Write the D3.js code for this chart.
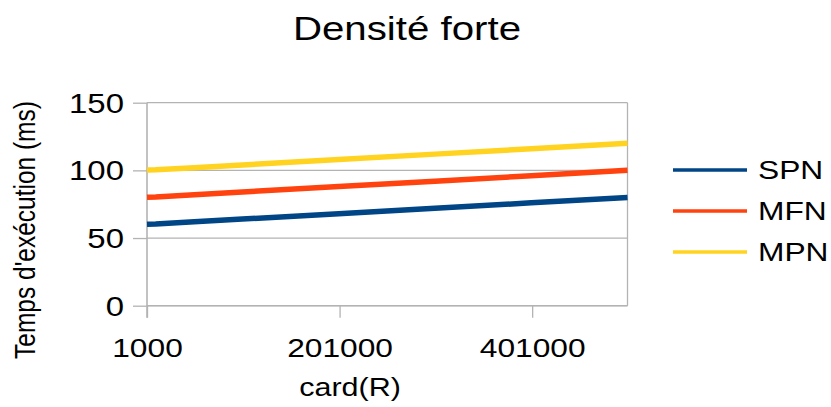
<!DOCTYPE html>
<html>
<head>
<meta charset="utf-8">
<script src="https://cdn.jsdelivr.net/npm/d3@7"></script>
<style>
  html, body { margin: 0; padding: 0; background: #fff; }
  svg { display: block; font-family: "Liberation Sans", Arial, sans-serif; }
</style>
</head>
<body>
<svg id="chart" width="831" height="407"></svg>
<script>
// card(R) sample sizes and execution times (ms) per method
const cardR = [1000, 10000, 50000, 100000, 200000, 300000, 400000, 500000];
const spn = [60.2, 60.4, 62, 64, 68, 72, 76, 80];
const mfn = [80.2, 80.4, 82, 84, 88, 92, 96, 100];
const mpn = [100.2, 100.4, 102, 104, 108, 112, 116, 120];
const seriesNames = ["SPN", "MFN", "MPN"];
const seriesColors = ["#004586", "#ff420e", "#ffd320"];
const xTicks = [1000, 201000, 401000];
const yTicks = [0, 50, 100, 150];

const series = [spn, mfn, mpn].map((vals, i) => ({
  name: seriesNames[i],
  color: seriesColors[i],
  points: cardR.map((c, j) => [c, vals[j]])
}));

const SX = 1.22; // horizontal stretch applied to all text
const svg = d3.select("#chart");
const plot = { left: 147, right: 627.5, top: 102.7, bottom: 305.7 };

const x = d3.scaleLinear().domain([1000, 500000]).range([plot.left, plot.right]);
const y = d3.scaleLinear().domain([0, 150]).range([plot.bottom, plot.top]);
const grey = "#b3b3b3";

// horizontal grid lines
svg.append("g").selectAll("line").data(yTicks).join("line")
  .attr("x1", plot.left).attr("x2", plot.right)
  .attr("y1", d => y(d)).attr("y2", d => y(d))
  .attr("stroke", grey).attr("stroke-width", 1.3);

// right border of the plot area
svg.append("line")
  .attr("x1", plot.right).attr("x2", plot.right)
  .attr("y1", plot.top).attr("y2", plot.bottom)
  .attr("stroke", grey).attr("stroke-width", 1.3);

// y axis
const yAxis = svg.append("g")
  .attr("transform", `translate(${plot.left},0)`)
  .call(d3.axisLeft(y).tickValues(yTicks).tickSize(14).tickPadding(0).tickFormat(d3.format("d")));
yAxis.select(".domain").remove();
yAxis.append("line").attr("x1", 0).attr("x2", 0)
  .attr("y1", plot.top).attr("y2", plot.bottom + 12)
  .attr("stroke", grey).attr("stroke-width", 1.6);
yAxis.selectAll(".tick line").attr("stroke", grey).attr("stroke-width", 1.3);
yAxis.selectAll(".tick text")
  .attr("x", -23 / SX).attr("dy", "0.35em")
  .attr("transform", `scale(${SX},1)`)
  .attr("font-size", 27).attr("fill", "#000")
  .attr("font-family", "Liberation Sans, Arial, sans-serif");

// x axis
const xAxis = svg.append("g")
  .attr("transform", `translate(0,${plot.bottom})`)
  .call(d3.axisBottom(x).tickValues(xTicks).tickSize(12).tickPadding(0).tickFormat(d3.format("d")));
xAxis.select(".domain").remove();
xAxis.append("line").attr("x1", plot.left).attr("x2", plot.right)
  .attr("y1", 0).attr("y2", 0).attr("stroke", grey).attr("stroke-width", 1.6);
xAxis.selectAll(".tick line").attr("stroke", grey).attr("stroke-width", 1.3);
xAxis.selectAll(".tick text")
  .attr("y", 51).attr("dy", 0)
  .attr("transform", `scale(${SX},1)`)
  .attr("font-size", 26).attr("fill", "#000")
  .attr("font-family", "Liberation Sans, Arial, sans-serif");

// data lines
const line = d3.line().x(d => x(d[0])).y(d => y(d[1]));
svg.append("g").selectAll("path").data(series).join("path")
  .attr("d", d => line(d.points))
  .attr("fill", "none")
  .attr("stroke", d => d.color)
  .attr("stroke-width", 5.5)
  .attr("stroke-linejoin", "round");

// stretched text helper
function label(txt, px, py, size, anchor, rotate) {
  const g = svg.append("g")
    .attr("transform", `translate(${px},${py}) scale(${SX},1)` + (rotate ? ` rotate(${rotate})` : ""));
  g.append("text").text(txt)
    .attr("font-size", size).attr("text-anchor", anchor).attr("fill", "#000");
}

label("Densité forte", 407, 40, 33, "middle");
label("card(R)", 350, 396, 25, "middle");
label("Temps d'exécution (ms)", 35, 230, 24.5, "middle", -90);

// legend
const legend = svg.append("g").selectAll("g").data(series).join("g")
  .attr("transform", (d, i) => `translate(673,${170 + i * 41})`);
legend.append("line").attr("x1", 0).attr("x2", 74)
  .attr("stroke", d => d.color).attr("stroke-width", 3.5);
legend.append("text").text(d => d.name)
  .attr("transform", `translate(85,0) scale(${SX},1)`)
  .attr("dy", "0.36em").attr("font-size", 26).attr("fill", "#000");
</script>
</body>
</html>
